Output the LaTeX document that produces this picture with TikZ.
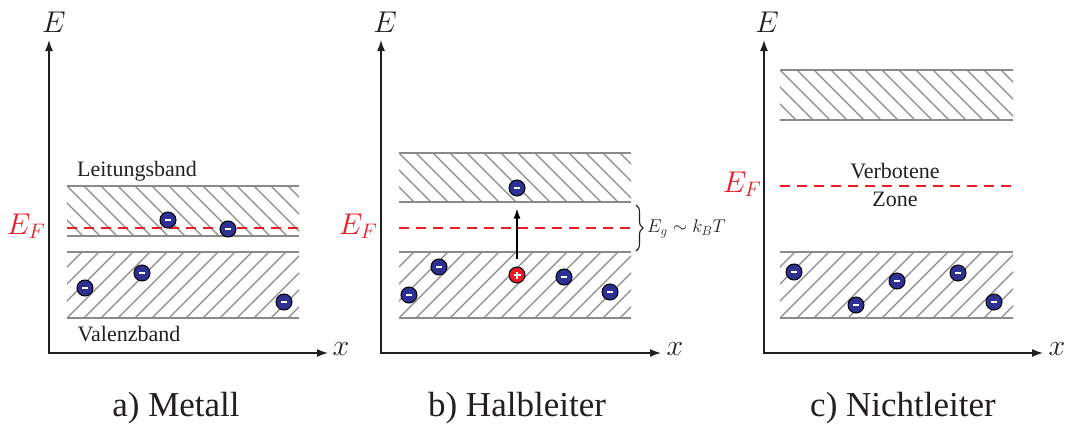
\documentclass[tikz,border=0pt]{standalone}
\usepackage{fontspec}
\setmainfont{Liberation Serif}
\DeclareFontShape{OML}{cmm}{m}{it}{<-6>cmmi5<6-7>cmmi6<7-8>cmmi7<8-9>cmmi8<9-10>cmmi9<10-12>cmmi10<12->cmmi12}{}
\DeclareFontShape{OMS}{cmsy}{m}{n}{<-6>cmsy5<6-7>cmsy6<7-8>cmsy7<8-9>cmsy8<9-10>cmsy9<10->cmsy10}{}
\usetikzlibrary{arrows.meta,decorations.pathreplacing}
\definecolor{efred}{HTML}{ED1C24}
\definecolor{eblue}{HTML}{2E3192}
\definecolor{bandgray}{HTML}{8A8A8A}
\definecolor{ink}{HTML}{231F20}
\newcommand\bandup[4]{% x1 y1 x2 y2, hatch like '/'
  \begin{scope}
    \clip (#1,#2) rectangle (#3,#4);
    \foreach \s in {-85,-68,...,260} {\draw[hatch] ({#1+\s},#4) -- ({#1+\s+#4-#2},#2);}
  \end{scope}
  \draw[bandedge] (#1,#2) -- (#3,#2) (#1,#4) -- (#3,#4);}
\newcommand\banddown[4]{% x1 y1 x2 y2, hatch like '\'
  \begin{scope}
    \clip (#1,#2) rectangle (#3,#4);
    \foreach \s in {-85,-68,...,260} {\draw[hatch] ({#1+\s},#2) -- ({#1+\s+#4-#2},#4);}
  \end{scope}
  \draw[bandedge] (#1,#2) -- (#3,#2) (#1,#4) -- (#3,#4);}
\tikzset{
  axis/.style={draw=ink, line width=1.5pt, {Latex[length=11pt,width=8pt]}-{Latex[length=11pt,width=8pt]}},
  bandedge/.style={draw=bandgray, line width=1.8pt},
  hatch/.style={draw=bandgray, line width=1.1pt},
  fermi/.style={draw=efred, line width=1.4pt, dash pattern=on 10pt off 7pt},
  particle/.style={circle, draw=black, line width=1pt, minimum size=16pt, inner sep=0pt},
  electron/.style={particle, fill=eblue, path picture={\draw[white, line width=1.7pt]
      ([xshift=-3pt]path picture bounding box.center) -- ([xshift=3pt]path picture bounding box.center);}},
  hole/.style={particle, fill=efred, path picture={\draw[white, line width=1.7pt]
      ([xshift=-3.5pt]path picture bounding box.center) -- ([xshift=3.5pt]path picture bounding box.center)
      ([yshift=-3.5pt]path picture bounding box.center) -- ([yshift=3.5pt]path picture bounding box.center);}},
  axlabel/.style={text=ink, font=\fontsize{30}{34}\selectfont, inner sep=0pt},
  eflabel/.style={text=efred, font=\fontsize{30}{34}\selectfont, inner sep=0pt},
  bandlabel/.style={text=ink, font=\fontsize{22}{26}\selectfont, inner sep=0pt},
  caption/.style={text=ink, font=\fontsize{35}{40}\selectfont, inner sep=0pt},
}
\begin{document}
\begin{tikzpicture}[x=1pt,y=-1pt]
\useasboundingbox (0,0) rectangle (1070,426);
% ---------- a) Metall ----------
\banddown{67}{186}{299}{236}
\bandup{67}{252}{299}{318}
\coordinate (efa1) at (67,228); \coordinate (efa2) at (299,228);
\draw[fermi] (efa1) -- (efa2);
\coordinate (ya) at (49,40); \coordinate (oa) at (49,353); \coordinate (xa) at (328,353);
\draw[axis] (ya) -- (oa) -- (xa);
\node[axlabel] (Ea) at (54,22) {$E$};
\node[axlabel] (xla) at (341,349) {$x$};
\node[eflabel] (EFa) at (26,226) {$E_F$};
\node[bandlabel] (lb) at (137,171) {Leitungsband};
\node[bandlabel] (vb) at (129,334) {Valenzband};
\node[electron] (a1) at (168,220) {};
\node[electron] (a2) at (228,229) {};
\node[electron] (a3) at (85,288) {};
\node[electron] (a4) at (142,273) {};
\node[electron] (a5) at (284,302) {};
\node[caption] (ca) at (176,408) {a) Metall};
% ---------- b) Halbleiter ----------
\banddown{399}{153}{631}{202}
\bandup{399}{252}{631}{318}
\coordinate (efb1) at (399,228); \coordinate (efb2) at (631,228);
\draw[fermi] (efb1) -- (efb2);
\coordinate (yb) at (381,40); \coordinate (ob) at (381,353); \coordinate (xb) at (661,353);
\draw[axis] (yb) -- (ob) -- (xb);
\node[axlabel] (Eb) at (385,22) {$E$};
\node[axlabel] (xlb) at (675,349) {$x$};
\node[eflabel] (EFb) at (358,226) {$E_F$};
\node[electron] (b1) at (517,188) {};
\node[hole] (h1) at (517,275) {};
\node[electron] (b2) at (439,267) {};
\node[electron] (b3) at (409,295) {};
\node[electron] (b4) at (564,277) {};
\node[electron] (b5) at (610,292) {};
\draw[draw=black, line width=1.4pt, -{Latex[length=10pt,width=7pt]}, shorten <=8pt, shorten >=12pt] (h1) -- (b1);
\coordinate (bt) at (636,205); \coordinate (bb) at (636,251);
\draw[ink, line width=1.1pt, decorate, decoration={brace, amplitude=7pt}] (bt) -- (bb);
\node[text=ink, font=\fontsize{18.5}{22}\selectfont, inner sep=0pt, anchor=west] (eg) at (647,229) {$E_g\sim k_BT$};
\node[caption] (cb) at (517,408) {b) Halbleiter};
% ---------- c) Nichtleiter ----------
\banddown{780}{70}{1013}{120}
\bandup{780}{252}{1013}{318}
\coordinate (efc1) at (780,186); \coordinate (efc2) at (1013,186);
\draw[fermi] (efc1) -- (efc2);
\coordinate (yc) at (764,40); \coordinate (oc) at (764,353); \coordinate (xc) at (1043,353);
\draw[axis] (yc) -- (oc) -- (xc);
\node[axlabel] (Ec) at (767,22) {$E$};
\node[axlabel] (xlc) at (1057,349) {$x$};
\node[eflabel] (EFc) at (742,184) {$E_F$};
\node[bandlabel] (vz) at (895,171) {Verbotene};
\node[bandlabel] (zo) at (895,199) {Zone};
\node[electron] (c1) at (794,272) {};
\node[electron] (c2) at (856,305) {};
\node[electron] (c3) at (897,281) {};
\node[electron] (c4) at (958,273) {};
\node[electron] (c5) at (994,302) {};
\node[caption] (cc) at (903,408) {c) Nichtleiter};
\end{tikzpicture}
\end{document}
